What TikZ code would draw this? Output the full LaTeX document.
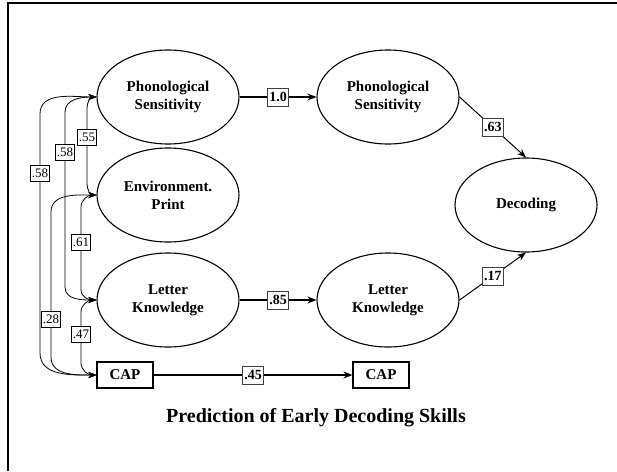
\documentclass[tikz,border=0pt]{standalone}
\usepackage{fontspec}
\setmainfont{Liberation Serif}
\usetikzlibrary{arrows.meta, positioning, shapes.geometric}

\begin{document}
\begin{tikzpicture}[x=1pt, y=-1pt,
  every node/.style={font=\fontsize{15}{18}\selectfont\bfseries},
  latent/.style={ellipse, draw, line width=1.1pt, minimum width=142pt, minimum height=94pt, inner sep=0pt, align=center},
  observed/.style={rectangle, draw, line width=1.1pt, minimum width=56pt, minimum height=26pt, inner sep=0pt},
  regline/.style={-{Stealth[length=9pt, width=7pt]}, line width=1.8pt},
  thinline/.style={-{Stealth[length=9pt, width=7pt]}, line width=1pt},
  coefbox/.style={rectangle, draw=black!75, line width=0.6pt, fill=white, inner xsep=1.5pt, inner ysep=0pt, minimum height=18pt, font=\fontsize{14}{14}\selectfont\bfseries},
  corbox/.style={rectangle, draw, line width=0.6pt, fill=white, inner xsep=1.5pt, inner ysep=0pt, minimum height=16pt, font=\fontsize{13}{13}\selectfont},
  corr/.style={{Stealth[length=8pt, width=6pt]}-{Stealth[length=8pt, width=6pt]}, line width=0.8pt},
]
\useasboundingbox (0,0) rectangle (617,471);
\draw[line width=2pt] (8,471) -- (8,3) -- (617,3);

% time 1
\node[latent] (ps1) at (168,97) {Phonological\\Sensitivity};
\node[latent] (ep) at (168,195) {Environment.\\Print};
\node[latent] (lk1) at (168,300) {Letter\\Knowledge};
\node[observed] (cap1) at (125,375) {CAP};

% time 2
\node[latent] (ps2) at (388,97) {Phonological\\Sensitivity};
\node[latent] (lk2) at (388,300) {Letter\\Knowledge};
\node[observed] (cap2) at (381,375) {CAP};
\node[latent] (dec) at (526,205) {Decoding};

\node (title) at (316,418) {\fontsize{20}{24}\selectfont Prediction of Early Decoding Skills};

% stability paths
\draw[regline] (ps1) -- node[coefbox] {1.0} (ps2);
\draw[regline] (lk1) -- node[coefbox] {.85} (lk2);
\draw[regline] (cap1) -- node[coefbox] {.45} (cap2);
\draw[thinline] (ps2.east) -- node[coefbox] {.63} (dec.north);
\draw[thinline] (lk2.east) -- node[coefbox] {.17} (dec.south);

% correlations
\draw[corr] (ps1.west) to[out=180, in=90] (40,114) -- node[corbox, pos=0.25] {.58} (40,353) to[out=-90, in=180] (cap1.west);
\draw[corr] (ps1.west) to[out=180, in=90] (65,112) -- node[corbox, pos=0.23] {.58} (65,287) to[out=-90, in=180] (lk1.west);
\draw[corr] (ps1.west) to[out=180, in=90] (87,108) -- node[corbox, pos=0.39] {.55} (87,184) to[out=-90, in=180] (ep.west);
\draw[corr] (ep.west) to[out=180, in=90] (81,207) -- node[corbox, pos=0.42] {.61} (81,290) to[out=-90, in=180] (lk1.west);
\draw[corr] (ep.west) to[out=180, in=90] (51,212) -- node[corbox, pos=0.74] {.28} (51,357) to[out=-90, in=180] (cap1.west);
\draw[corr] (lk1.west) to[out=180, in=90] (81,312) -- node[corbox, pos=0.43] {.47} (81,363) to[out=-90, in=180] (cap1.west);

\end{tikzpicture}
\end{document}
